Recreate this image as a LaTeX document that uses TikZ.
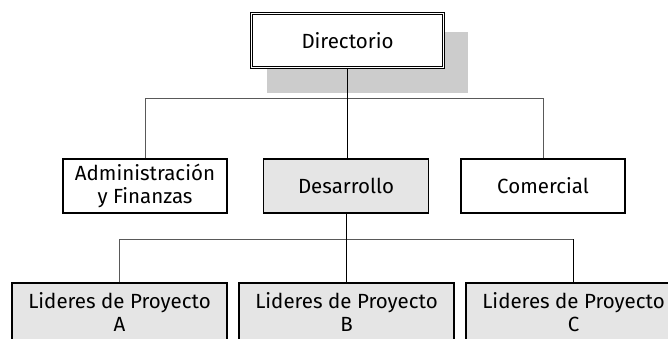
\documentclass[tikz,border=0pt]{standalone}
\usepackage{fontspec}
\setmainfont{Fira Sans}
\tikzset{
  unidad/.style={draw, rectangle, line width=1.2pt, inner sep=0pt, align=center,
    font=\fontsize{20.5}{23}\selectfont},
  lider/.style={unidad, fill=gray!20, minimum width=215pt, minimum height=58pt},
  bus/.style={draw=gray!70!black, line width=0.9pt},
  tronco/.style={draw=black, line width=0.9pt}
}
\begin{document}
\begin{tikzpicture}[x=1pt, y=-1pt]
        \useasboundingbox (0, 0) rectangle (668, 339);
        \clip (0, 0) rectangle (668, 339);
        % Directorio
        \fill[gray!40] (267, 32) rectangle (468, 93);
        \node[unidad, fill=white, double, line width=0.9pt, double distance=1.2pt, minimum width=192pt, minimum height=54pt] (dir) at (347.5, 40.5) {Directorio};
        
        % Gerencias
        \node[unidad, minimum width=164pt, minimum height=54pt] (adm) at (145, 186) {Administración\\y Finanzas};
        \node[unidad, fill=gray!20, minimum width=165pt, minimum height=54pt] (des) at (346, 186) {Desarrollo};
        \node[unidad, minimum width=164pt, minimum height=54pt] (com) at (543, 186) {Comercial};
        
        % Lideres de proyecto
        \node[lider] (lpa) at (119.5, 312) {Lideres de Proyecto\\A};
        \node[lider] (lpb) at (346.5, 312) {Lideres de Proyecto\\B};
        \node[lider] (lpc) at (573.5, 312) {Lideres de Proyecto\\C};
        
        % Lineas
        \coordinate (busA) at (0, 98);
        \coordinate (busB) at (0, 239);
        \draw[bus] (adm.north) -- (adm.north |- busA) -- (com.north |- busA) -- (com.north);
        \draw[tronco] (dir.south) -- (dir.south |- des.north);
        \draw[bus] (lpa.north) -- (lpa.north |- busB) -- (lpc.north |- busB);
        \draw[tronco] (lpc.north |- busB) -- (lpc.north);
        \draw[tronco] (des.south) -- (des.south |- lpb.north);
        
    \end{tikzpicture}
\end{document}
